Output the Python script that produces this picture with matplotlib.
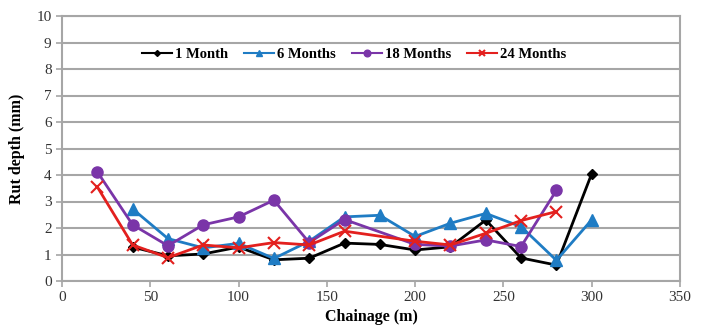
import matplotlib
matplotlib.use("Agg")
import matplotlib.pyplot as plt
import numpy as np

plt.rcParams['font.family'] = ['Liberation Serif', 'DejaVu Serif']

x_1m = [40, 60, 80, 100, 120, 140, 160, 180, 200, 220, 240, 260, 280, 300]
y_1m = [1.28, 0.95, 1.02, 1.28, 0.80, 0.86, 1.43, 1.38, 1.17, 1.29, 2.30, 0.87, 0.60, 4.05]

x_6m = [40, 60, 80, 100, 120, 140, 160, 180, 200, 220, 240, 260, 280, 300]
y_6m = [2.72, 1.60, 1.25, 1.42, 0.85, 1.50, 2.42, 2.48, 1.68, 2.18, 2.55, 2.05, 0.78, 2.31]

x_18m = [20, 40, 60, 80, 100, 120, 140, 160, 200, 220, 240, 260, 280]
y_18m = [4.12, 2.12, 1.33, 2.12, 2.42, 3.05, 1.45, 2.32, 1.38, 1.32, 1.55, 1.30, 3.42]

x_24m = [20, 40, 60, 80, 100, 120, 140, 160, 200, 220, 240, 260, 280]
y_24m = [3.55, 1.36, 0.88, 1.36, 1.25, 1.45, 1.36, 1.88, 1.50, 1.36, 1.80, 2.28, 2.62]

labels = ['1 Month', '6 Months', '18 Months', '24 Months']

fig = plt.figure(figsize=(7.08, 3.29), dpi=100)
ax = fig.add_axes([62/708, 1-281/329, (680-62)/708, (281-16)/329])

ax.plot(x_1m, y_1m, color='black', lw=2, marker='D', ms=5, label=labels[0], zorder=3)
ax.plot(x_6m, y_6m, color='#1F7CC4', lw=2, marker='^', ms=8, label=labels[1], zorder=3)
ax.plot(x_18m, y_18m, color='#7A35A8', lw=2, marker='o', ms=8, label=labels[2], zorder=3)
ax.plot(x_24m, y_24m, color='#E3201E', lw=2, marker='x', ms=8, mew=1.5, label=labels[3], zorder=4)

ax.set_xlim(0, 350)
ax.set_ylim(0, 10)
ax.set_xticks(np.arange(0, 351, 50))
ax.set_yticks(np.arange(0, 11, 1))
ax.grid(axis='y', color='#A6A6A6', lw=1.5)
ax.set_axisbelow(True)
for s in ax.spines.values():
    s.set_color('#A6A6A6')
    s.set_linewidth(1.5)
ax.tick_params(colors='#A6A6A6', labelcolor='#333333', labelsize=11, length=4, width=1.2)

ax.set_xlabel('Chainage (m)', fontsize=11.5, fontweight='bold', labelpad=3)
ax.set_ylabel('Rut depth (mm)', fontsize=11.5, fontweight='bold', labelpad=8)

leg = ax.legend(loc='center', bbox_to_anchor=(354/708, 1-54/329), bbox_transform=fig.transFigure,
                ncol=4, frameon=True, fancybox=False, edgecolor='white', framealpha=1,
                prop={'weight': 'bold', 'size': 10.5}, handlelength=2.05, columnspacing=1.1,
                handletextpad=0.2, borderpad=0.15, borderaxespad=0, markerscale=0.6)
for ln in leg.get_lines():
    ln.set_linewidth(1.5)

fig.savefig('out.png', dpi=100)
